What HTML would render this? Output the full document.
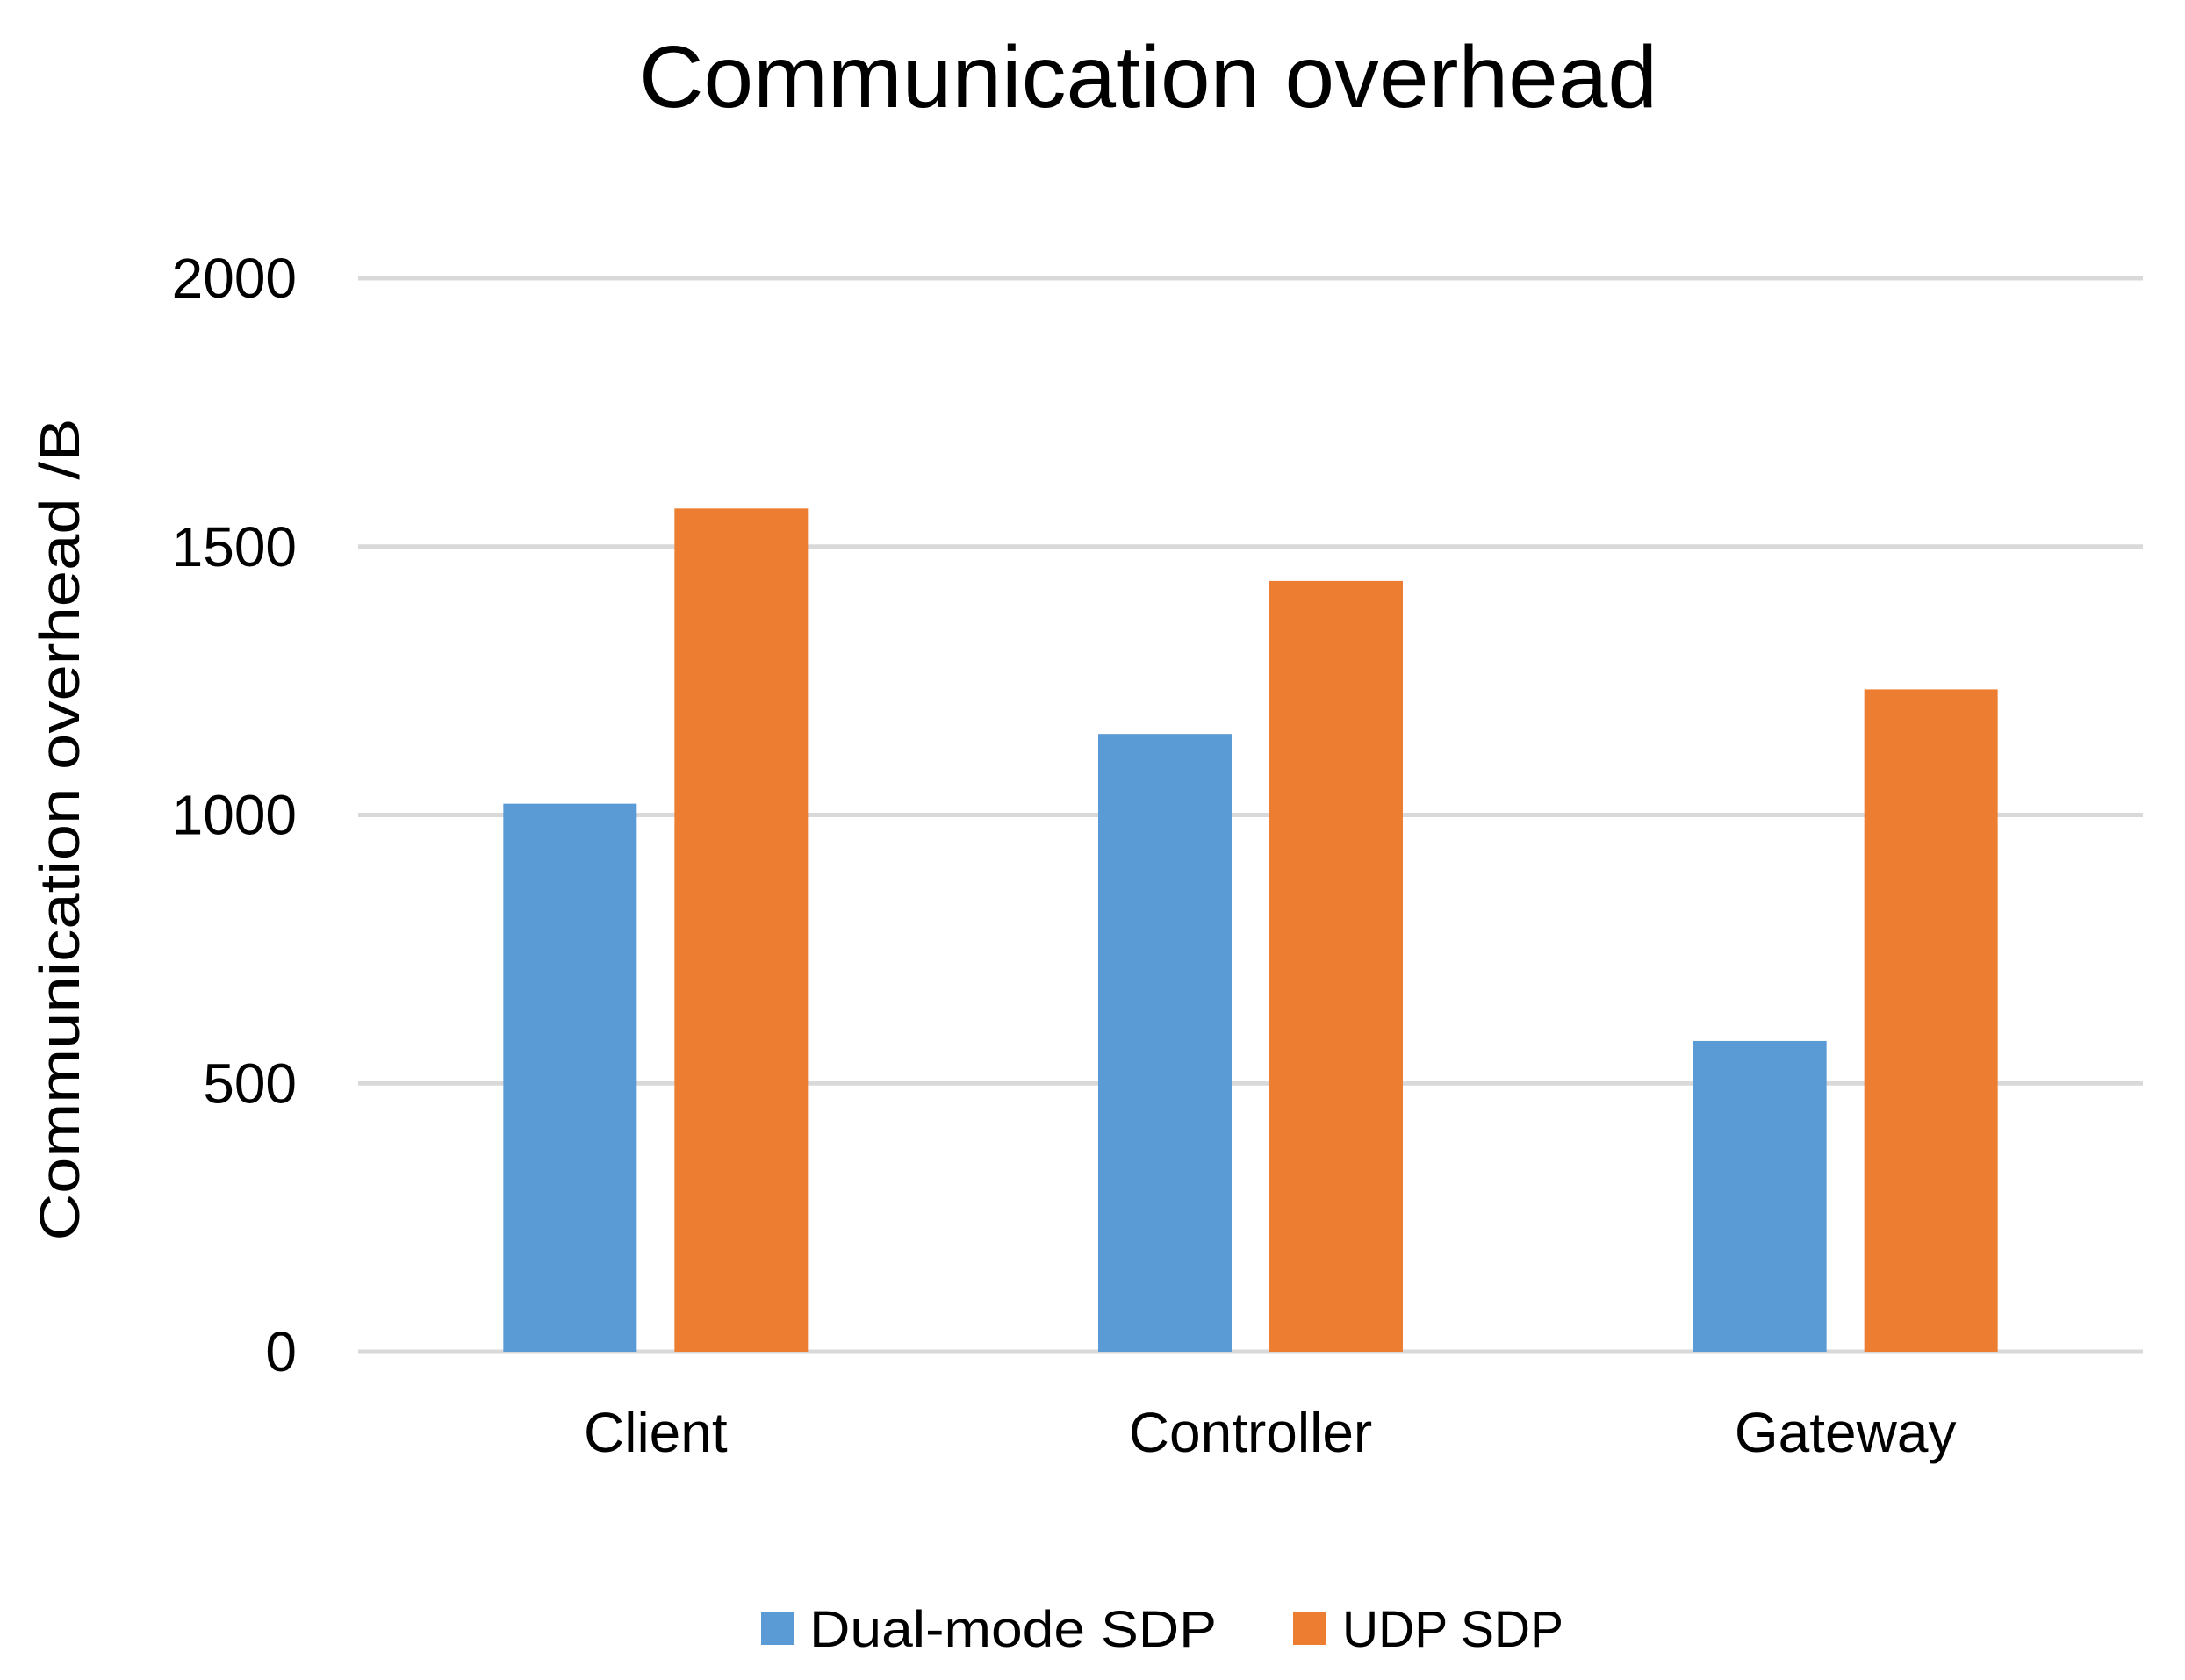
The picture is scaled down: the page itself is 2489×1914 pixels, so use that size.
<!DOCTYPE html>
<html><head><meta charset="utf-8"><style>
html,body{margin:0;padding:0;background:#fff;}
svg{display:block;font-family:"Liberation Sans","DejaVu Sans",sans-serif;}
</style></head><body>
<svg id="chart" width="2489" height="1914" viewBox="0 0 2489 1914" xmlns="http://www.w3.org/2000/svg">
<rect width="2489" height="1914" fill="#fff"/>
<text x="1308" y="122" text-anchor="middle" font-size="100" fill="#000" textLength="1160" lengthAdjust="spacingAndGlyphs">Communication overhead</text>
<text transform="translate(90,945) rotate(-90)" text-anchor="middle" font-size="64" fill="#000" textLength="937" lengthAdjust="spacingAndGlyphs">Communication overhead  /B</text>
<g id="grid"></g>
<g id="bars"></g>
<g id="labels"></g>
<g>
<rect x="867" y="1837" width="37" height="37" fill="#5b9bd5"/>
<text x="922" y="1876" font-size="58" fill="#000" textLength="464" lengthAdjust="spacingAndGlyphs">Dual-mode  SDP</text>
<rect x="1473" y="1837" width="37" height="37" fill="#ed7d31"/>
<text x="1529" y="1876" font-size="58" fill="#000" textLength="252" lengthAdjust="spacingAndGlyphs">UDP SDP</text>
</g>
</svg>
<script>
const categories = ["Client", "Controller", "Gateway"];
const dualMode = [1021, 1151, 579];
const udp = [1571, 1436, 1234];
const yTicks = [0, 500, 1000, 1500, 2000];

const NS = "http://www.w3.org/2000/svg";
const plotL = 408, plotR = 2441, plotT = 317, plotB = 1540, yMax = 2000;
const catW = (plotR - plotL) / categories.length;
const barW = 152, gap = 43;
function yScale(v){ return plotB - v / yMax * (plotB - plotT); }
function xCenter(i){ return plotL + catW * (i + 0.5); }
function mk(tag, attrs){ const e = document.createElementNS(NS, tag); for (const k in attrs) e.setAttribute(k, attrs[k]); return e; }

const grid = document.getElementById('grid');
const bars = document.getElementById('bars');
const labels = document.getElementById('labels');

yTicks.forEach(t => {
  const y = yScale(t);
  const line = mk('line', {x1: plotL, x2: plotR, y1: y, y2: y, stroke: '#d9d9d9', 'stroke-width': 5});
  
  
  grid.appendChild(line);
  const tx = mk('text', {x: 338, y: y + 22, 'text-anchor': 'end', 'font-size': 64, fill: '#000'});
  tx.textContent = String(t);
  
  
  labels.appendChild(tx);
});

categories.forEach((c, i) => {
  const cx = xCenter(i);
  const b1 = mk('rect', {x: cx - gap/2 - barW, y: yScale(dualMode[i]), width: barW, height: plotB - yScale(dualMode[i]), fill: '#5b9bd5'});
  
  
  bars.appendChild(b1);
  const b2 = mk('rect', {x: cx + gap/2, y: yScale(udp[i]), width: barW, height: plotB - yScale(udp[i]), fill: '#ed7d31'});
  
  
  bars.appendChild(b2);
  const lb = mk('text', {x: cx, y: 1654, 'text-anchor': 'middle', 'font-size': 64, fill: '#000'});
  lb.textContent = c;
  
  
  labels.appendChild(lb);
});
</script>
</body></html>
